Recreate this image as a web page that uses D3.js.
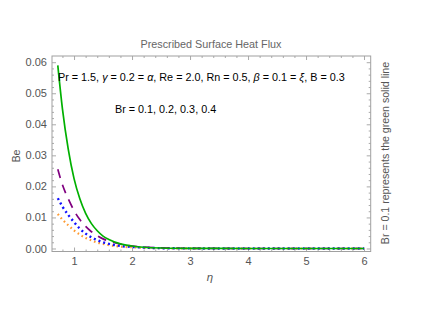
<!DOCTYPE html>
<html>
<head>
<meta charset="utf-8">
<script src="https://cdn.jsdelivr.net/npm/d3@7"></script>
<style>
  body { margin: 0; background: #fff; }
  text { font-family: 'Liberation Sans', Arial, sans-serif; }
</style>
</head>
<body>
<div id="chart"></div>
<script>
const eta = [0.72, 0.8, 0.9, 1.0, 1.1, 1.2, 1.3, 1.4, 1.5, 1.6, 1.8, 2.0, 2.2, 2.5, 3.0, 3.5, 4.0, 5.0, 6.0]
const beGreen = [0.059, 0.045, 0.032, 0.0225, 0.016, 0.0113, 0.008, 0.0057, 0.004, 0.0029, 0.0015, 0.0008, 0.0004, 0.00015, 0.00003, 0.00001, 0, 0, 0]
const bePurple = [0.0255, 0.0205, 0.016, 0.0122, 0.0093, 0.0071, 0.0054, 0.0041, 0.0031, 0.0024, 0.0014, 0.0008, 0.0005, 0.0002, 0.00005, 0.00001, 0, 0, 0]
const beBlue = [0.0162, 0.0135, 0.0108, 0.0085, 0.0064, 0.0048, 0.0036, 0.0027, 0.002, 0.0015, 0.0008, 0.0005, 0.0003, 0.0001, 0.00003, 0.00001, 0, 0, 0]
const beOrange = [0.0111, 0.0093, 0.0075, 0.0058, 0.0045, 0.0034, 0.0026, 0.0019, 0.0015, 0.0011, 0.0006, 0.0004, 0.0002, 0.0001, 0.00002, 0, 0, 0, 0]
const xTicks = [1, 2, 3, 4, 5, 6]
const yTicks = [0, 0.01, 0.02, 0.03, 0.04, 0.05, 0.06]

const W = 444
const H = 313
const frame = { left: 52, right: 370.7, top: 56, bottom: 251.5 }

const svg = d3.select('#chart').append('svg').attr('width', W).attr('height', H)

const x = d3.scaleLinear().domain([0.62, 6.115]).range([frame.left, frame.right])
const y = d3.scaleLinear().domain([-0.00097, 0.062]).range([frame.bottom, frame.top])

const tickColor = '#aaa'
const labelColor = '#555'
const fontSize = '10.8px'

// minor ticks
const xMinor = d3.range(0.8, 6.1, 0.2).filter((v) => Math.abs(v - Math.round(v)) > 0.01)
const yMinor = d3.range(0.002, 0.0615, 0.002).filter((v) => Math.abs(v * 100 - Math.round(v * 100)) > 0.01)

const styleAxis = (g) => {
  g.select('.domain').remove()
  g.selectAll('.tick line').attr('stroke', tickColor)
  g.selectAll('.tick text').style('fill', labelColor).style('font-size', '11px')
}

svg.append('g')
  .attr('transform', `translate(0,${frame.bottom})`)
  .call(d3.axisBottom(x).tickValues(xTicks).tickSize(-4).tickPadding(6).tickFormat(d3.format('d')))
  .call(styleAxis)
svg.append('g')
  .attr('transform', `translate(0,${frame.bottom})`)
  .call(d3.axisBottom(x).tickValues(xMinor).tickSize(-2).tickFormat(''))
  .call(styleAxis)
svg.append('g')
  .attr('transform', `translate(0,${frame.top})`)
  .call(d3.axisTop(x).tickValues(xTicks).tickSize(-4).tickFormat(''))
  .call(styleAxis)
svg.append('g')
  .attr('transform', `translate(0,${frame.top})`)
  .call(d3.axisTop(x).tickValues(xMinor).tickSize(-2).tickFormat(''))
  .call(styleAxis)

svg.append('g')
  .attr('transform', `translate(${frame.left},0)`)
  .call(d3.axisLeft(y).tickValues(yTicks).tickSize(-4).tickPadding(5).tickFormat(d3.format('.2f')))
  .call(styleAxis)
svg.append('g')
  .attr('transform', `translate(${frame.left},0)`)
  .call(d3.axisLeft(y).tickValues(yMinor).tickSize(-2).tickFormat(''))
  .call(styleAxis)
svg.append('g')
  .attr('transform', `translate(${frame.right},0)`)
  .call(d3.axisRight(y).tickValues(yTicks).tickSize(-4).tickFormat(''))
  .call(styleAxis)
svg.append('g')
  .attr('transform', `translate(${frame.right},0)`)
  .call(d3.axisRight(y).tickValues(yMinor).tickSize(-2).tickFormat(''))
  .call(styleAxis)

svg.append('rect')
  .attr('x', frame.left)
  .attr('y', frame.top)
  .attr('width', frame.right - frame.left)
  .attr('height', frame.bottom - frame.top)
  .attr('fill', 'none')
  .attr('stroke', '#a0a0a0')
  .attr('stroke-width', 1)

// curves
const series = [
  { values: beOrange, color: '#ff9a30', dash: '1.6,3', width: 2.2 },
  { values: beBlue, color: '#1010ff', dash: '2,3', width: 2.4 },
  { values: bePurple, color: '#800080', dash: '9,7', width: 1.7 },
  { values: beGreen, color: '#00b000', dash: null, width: 1.7 }
]

const line = d3.line()
  .x((d) => x(d[0]))
  .y((d) => y(d[1]))
  .curve(d3.curveMonotoneX)

const plot = svg.append('g')
series.forEach((s) => {
  plot.append('path')
    .datum(eta.map((e, i) => [e, s.values[i]]))
    .attr('d', line)
    .attr('fill', 'none')
    .attr('stroke', s.color)
    .attr('stroke-width', s.width)
    .attr('stroke-linecap', 'butt')
    .attr('stroke-dasharray', s.dash)
})

// title and labels
svg.append('text')
  .attr('x', 211)
  .attr('y', 48)
  .attr('text-anchor', 'middle')
  .text('Prescribed Surface Heat Flux')
  .style('font-size', fontSize)
  .style('fill', '#666')

svg.append('text')
  .attr('x', 16)
  .attr('y', 156)
  .attr('text-anchor', 'middle')
  .attr('transform', 'rotate(-90, 16, 156)')
  .attr('dy', '0.35em')
  .text('Be')
  .style('font-size', fontSize)
  .style('fill', labelColor)

svg.append('text')
  .attr('x', 210)
  .attr('y', 281)
  .attr('text-anchor', 'middle')
  .text('η')
  .style('font-size', '11.5px')
  .style('font-style', 'italic')
  .style('fill', labelColor)

svg.append('text')
  .attr('x', 385)
  .attr('y', 153)
  .attr('text-anchor', 'middle')
  .attr('dy', '0.35em')
  .attr('transform', 'rotate(-90, 385, 153)')
  .text('Br = 0.1 represents the green solid line')
  .style('font-size', '10.6px')
  .style('fill', labelColor)

const params = svg.append('text')
  .attr('x', 58)
  .attr('y', 81)
  .style('font-size', fontSize)
  .style('fill', '#000')
const parts = [
  ['Pr = 1.5, ', false], ['γ', true], [' = 0.2 = ', false], ['α', true],
  [', Re = 2.0, Rn = 0.5, ', false], ['β', true], [' = 0.1 = ', false], ['ξ', true], [', B = 0.3', false]
]
parts.forEach(([t, it]) => {
  params.append('tspan').text(t).style('font-style', it ? 'italic' : 'normal')
})

svg.append('text')
  .attr('x', 115)
  .attr('y', 113)
  .text('Br = 0.1, 0.2, 0.3, 0.4')
  .style('font-size', fontSize)
  .style('fill', '#000')
</script>
</body>
</html>
